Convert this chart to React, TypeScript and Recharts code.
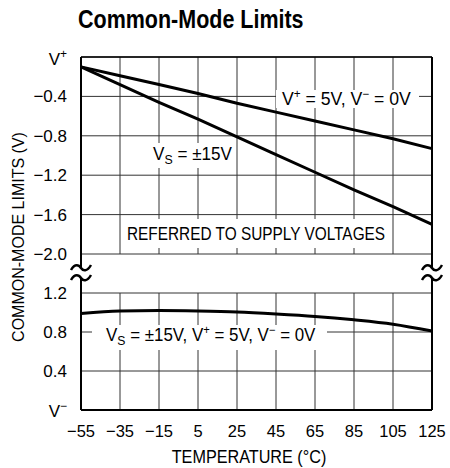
import { CartesianGrid, Line, LineChart, ReferenceLine, XAxis, YAxis } from "recharts";

// temperature (°C) and the three common-mode limit curves
const temps = [-55, -35, -15, 5, 25, 45, 65, 85, 105, 125];
const upper5V = [-0.1, -0.19, -0.28, -0.37, -0.47, -0.56, -0.65, -0.74, -0.83, -0.93];
const upper15V = [-0.1, -0.28, -0.46, -0.63, -0.81, -0.99, -1.17, -1.35, -1.52, -1.7];
const lowerBoth = [0.99, 1.015, 1.02, 1.015, 1.005, 0.985, 0.96, 0.925, 0.88, 0.81];

const upperTicks = [-2, -1.6, -1.2, -0.8, -0.4, 0];
const lowerTicks = [0, 0.4, 0.8, 1.2];

const FONT = "'Liberation Sans', Arial, Helvetica, sans-serif";
const MINUS = "\u2212";
const GRID = "#333";

const W = 450;
const PLOT_L = 81;
const PLOT_R = 432;
const GAP_TOP = 254;
const GAP_BOT = 293;

const upperData = temps.map((t, i) => ({ t, a: upper5V[i], b: upper15V[i] }));
const lowerData = temps.map((t, i) => ({ t, c: lowerBoth[i] }));

// text squeezed horizontally to look like the condensed datasheet face
function NText({ x, y, size, sx = 0.9, anchor = "start", weight, rotate, children }: any) {
  const t = `translate(${x} ${y})${rotate ? ` rotate(${rotate})` : ""} scale(${sx} 1)`;
  return (
    <text transform={t} x={0} y={0} fontSize={size} fontWeight={weight} textAnchor={anchor} fill="#000">
      {children}
    </text>
  );
}

function YTick({ x, y, payload, rail }: any) {
  const v = payload.value as number;
  if (v === 0) {
    return (
      <NText x={x} y={y + (rail === "top" ? 8 : 7)} size={17} sx={1} anchor="end">
        <tspan>V</tspan>
        <tspan fontSize={12} dy={-7}>{rail === "top" ? "+" : MINUS}</tspan>
      </NText>
    );
  }
  const s = v < 0 ? MINUS + Math.abs(v).toFixed(1) : v.toFixed(1);
  return (
    <NText x={x} y={y + 6} size={17} sx={1} anchor="end">
      {s}
    </NText>
  );
}

function XTick({ x, y, payload }: any) {
  const v = payload.value as number;
  const s = v < 0 ? MINUS + Math.abs(v) : String(v);
  return (
    <NText x={x} y={y + 11} size={17} sx={0.97} anchor="middle">
      {s}
    </NText>
  );
}

function Tilde({ cx, cy }: { cx: number; cy: number }) {
  return (
    <path
      d={`M ${cx - 10} ${cy + 2} C ${cx - 6} ${cy - 5}, ${cx - 2} ${cy - 3}, ${cx} ${cy} S ${cx + 6} ${cy + 4}, ${cx + 10} ${cy - 3}`}
      fill="none"
      stroke="#000"
      strokeWidth={2.5}
    />
  );
}

function Breaks({ x }: { x: number }) {
  return (
    <g>
      <line x1={x} x2={x} y1={GAP_TOP} y2={268} stroke="#000" strokeWidth={2} />
      <line x1={x} x2={x} y1={278} y2={GAP_BOT} stroke="#000" strokeWidth={2} />
      <Tilde cx={x} cy={268} />
      <Tilde cx={x} cy={278} />
    </g>
  );
}

export default function App() {
  return (
    <div style={{ position: "absolute", left: 0, top: 0, width: W, height: 468, background: "#fff", fontFamily: FONT }}>
      <div style={{ position: "absolute", left: 0, top: 0 }}>
        <LineChart width={W} height={272} data={upperData} margin={{ top: 57, right: 18, bottom: 18, left: 0 }}>
          <CartesianGrid stroke={GRID} strokeWidth={1} />
          <XAxis dataKey="t" type="number" domain={[-55, 125]} ticks={temps} hide />
          <YAxis
            type="number"
            domain={[-2, 0]}
            ticks={upperTicks}
            interval={0}
            width={81}
            tickLine={false}
            axisLine={false}
            tickMargin={8}
            tick={<YTick rail="top" />}
          />
          <ReferenceLine x={-55} stroke="#000" strokeWidth={2} />
          <ReferenceLine x={125} stroke="#000" strokeWidth={2} />
          <ReferenceLine y={0} stroke="#000" strokeWidth={1.5} />
          <Line dataKey="a" type="linear" stroke="#000" strokeWidth={3} dot={false} isAnimationActive={false} />
          <Line dataKey="b" type="linear" stroke="#000" strokeWidth={3} dot={false} isAnimationActive={false} />
        </LineChart>
      </div>
      <div style={{ position: "absolute", left: 0, top: GAP_TOP }}>
        <LineChart width={W} height={214} data={lowerData} margin={{ top: 39, right: 18, bottom: 0, left: 0 }}>
          <CartesianGrid stroke={GRID} strokeWidth={1} />
          <XAxis
            dataKey="t"
            type="number"
            domain={[-55, 125]}
            ticks={temps}
            interval={0}
            height={58}
            tickLine={false}
            axisLine={false}
            tickMargin={10}
            tick={<XTick />}
          />
          <YAxis
            type="number"
            domain={[0, 1.2]}
            ticks={lowerTicks}
            interval={0}
            width={81}
            tickLine={false}
            axisLine={false}
            tickMargin={8}
            tick={<YTick rail="bottom" />}
          />
          <ReferenceLine x={-55} stroke="#000" strokeWidth={2} />
          <ReferenceLine x={125} stroke="#000" strokeWidth={2} />
          <ReferenceLine y={0} stroke="#000" strokeWidth={2} />
          <Line dataKey="c" type="monotone" stroke="#000" strokeWidth={3} dot={false} isAnimationActive={false} />
        </LineChart>
      </div>
      <svg width={W} height={468} style={{ position: "absolute", left: 0, top: 0, pointerEvents: "none" }}>
        <NText x={78} y={28} size={25} sx={0.86} weight="bold">
          Common-Mode Limits
        </NText>
        <NText x={24} y={237} size={16} sx={1} anchor="middle" rotate={-90}>
          COMMON-MODE LIMITS (V)
        </NText>
        <NText x={249} y={463} size={18} sx={0.9} anchor="middle">
          TEMPERATURE (°C)
        </NText>

        <Breaks x={PLOT_L} />
        <Breaks x={PLOT_R} />

        <rect x={276} y={90} width={143} height={18} fill="#fff" />
        <NText x={282} y={105} size={18} sx={0.98}>
          <tspan>V</tspan>
          <tspan fontSize={12} dy={-7}>+</tspan>
          <tspan dy={7}> = 5V, V</tspan>
          <tspan fontSize={12} dy={-7}>{MINUS}</tspan>
          <tspan dy={7}> = 0V</tspan>
        </NText>

        <rect x={150} y={143} width={86} height={25} fill="#fff" />
        <NText x={153} y={160} size={18} sx={0.95}>
          <tspan>V</tspan>
          <tspan fontSize={13} dy={4}>S</tspan>
          <tspan dy={-4}> = ±15V</tspan>
        </NText>

        <rect x={122} y={219} width={268} height={29} fill="#fff" />
        <NText x={127} y={240} size={18} sx={0.855}>
          REFERRED TO SUPPLY VOLTAGES
        </NText>

        <rect x={92} y={325} width={235} height={25} fill="#fff" />
        <NText x={106} y={341} size={18} sx={0.94}>
          <tspan>V</tspan>
          <tspan fontSize={13} dy={4}>S</tspan>
          <tspan dy={-4}> = ±15V, V</tspan>
          <tspan fontSize={12} dy={-7}>+</tspan>
          <tspan dy={7}> = 5V, V</tspan>
          <tspan fontSize={12} dy={-7}>{MINUS}</tspan>
          <tspan dy={7}> = 0V</tspan>
        </NText>
      </svg>
    </div>
  );
}
